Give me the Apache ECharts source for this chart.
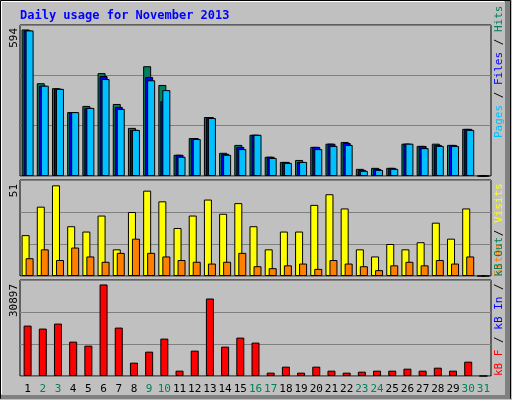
<!DOCTYPE html>
<html><head><meta charset="utf-8">
<script src="https://cdn.jsdelivr.net/npm/echarts@6/dist/echarts.min.js"></script>
<style>html,body{margin:0;padding:0;background:#c0c0c0}#c{width:512px;height:400px}</style>
</head><body><div id="c"></div>
<script>
const days = ['1','2','3','4','5','6','7','8','9','10','11','12','13','14','15','16','17','18','19','20','21','22','23','24','25','26','27','28','29','30','31'];
const weekend = ['2','3','9','10','16','17','23','24','30','31'];
const hits  = [594,376,356,259,284,417,292,195,445,369,86,154,239,94,126,167,78,57,65,118,131,138,29,33,33,131,122,131,126,191,0];
const files = [590,366,354,259,276,405,280,187,401,303,86,154,239,90,118,167,78,57,57,118,131,134,25,29,33,131,122,126,126,191,0];
const pages = [590,366,353,259,276,393,272,187,388,348,78,150,235,86,109,167,73,53,57,109,122,126,21,25,29,131,113,122,122,187,0];
const visits = [23,39,51,28,25,34,15,36,48,42,27,34,43,35,41,28,15,25,25,40,46,38,15,11,18,15,19,30,21,38,0];
const sites  = [10,15,9,16,11,8,13,21,13,11,9,8,7,8,13,5.5,4.4,6,7,4,9,7,5.5,3.3,6,8,6,9,7,11,0];
const kbF = [17010,16000,17690,11600,10250,30897,16340,4500,8220,12620,1800,8560,26150,9910,12960,11270,1130,3150,1130,3150,1800,1130,1460,1800,1800,2470,1800,2810,1800,4840,0];
const maxLabels = ['594','51','30897'];

const chart = echarts.init(document.getElementById('c'));
const L = 20, R = 21;
const grids = [{top:25,height:151},{top:180,height:96},{top:280,height:96}].map(g=>({left:L,right:R,top:g.top,height:g.height,show:true,borderColor:'#000',borderWidth:1,backgroundColor:'#c0c0c0'}));
function xa(i,show){return {type:'category',gridIndex:i,data:days,axisLine:{show:false},axisTick:{show:false},
  axisLabel:{show:show,interval:0,margin:8,fontFamily:'DejaVu Sans Mono',fontSize:11,
    color:(v)=>weekend.includes(v)?'#00805c':'#000'}};}
function ya(i,max){return {type:'value',gridIndex:i,min:0,max:max,interval:max/3,axisLabel:{show:false},axisLine:{show:false},axisTick:{show:false},
  splitLine:{lineStyle:{color:'#808080',width:1}}};}
const bs = {borderColor:'#000',borderWidth:1};
const fnt = 'DejaVu Sans Mono';
function sideLabel(x,y,parts){
  const rich={};let txt='';
  parts.forEach((p,i)=>{rich['p'+i]={fill:p[1],fontFamily:fnt,fontSize:11};txt+='{p'+i+'|'+p[0]+'}';});
  return {type:'text',x:x,y:y,rotation:Math.PI/2,style:{text:txt,rich:rich,align:'left',verticalAlign:'middle',fontFamily:fnt,fontSize:11}};
}
chart.setOption({
  animation:false,
  backgroundColor:'#c0c0c0',
  grid:grids,
  xAxis:[xa(0,false),xa(1,false),xa(2,true)],
  yAxis:[ya(0,612),ya(1,54),ya(2,32400)],
  series:[
    {type:'bar',name:'Hits',xAxisIndex:0,yAxisIndex:0,data:hits,barWidth:8,barGap:'-75%',itemStyle:Object.assign({color:'#00805c'},bs)},
    {type:'bar',name:'Files',xAxisIndex:0,yAxisIndex:0,data:files,barWidth:8,barGap:'-75%',itemStyle:Object.assign({color:'#0000ff'},bs)},
    {type:'bar',name:'Pages',xAxisIndex:0,yAxisIndex:0,data:pages,barWidth:8,barGap:'-75%',itemStyle:Object.assign({color:'#00c0ff'},bs)},
    {type:'bar',name:'Visits',xAxisIndex:1,yAxisIndex:1,data:visits,barWidth:8,barGap:'-50%',itemStyle:Object.assign({color:'#ffff00'},bs)},
    {type:'bar',name:'Sites',xAxisIndex:1,yAxisIndex:1,data:sites,barWidth:8,barGap:'-50%',itemStyle:Object.assign({color:'#ff8000'},bs)},
    {type:'bar',name:'kB F',xAxisIndex:2,yAxisIndex:2,data:kbF,barWidth:8,itemStyle:Object.assign({color:'#ff0000'},bs)}
  ],
  graphic:[
    {type:'rect',shape:{x:0.5,y:0.5,width:510,height:398},style:{fill:null,stroke:'#000',lineWidth:1},z:-1},
    {type:'line',shape:{x1:1.5,y1:1.5,x2:1.5,y2:394},style:{stroke:'#fff',lineWidth:1}},
    {type:'line',shape:{x1:1.5,y1:1.5,x2:504,y2:1.5},style:{stroke:'#fff',lineWidth:1}},
    {type:'rect',shape:{x:505,y:1,width:5,height:397},style:{fill:'#808080'}},
    {type:'rect',shape:{x:1,y:395,width:509,height:4},style:{fill:'#808080'}},
    {type:'text',x:20,y:16,style:{text:'Daily usage for November 2013',fill:'#0000ff',fontFamily:fnt,fontSize:12,fontWeight:'bold',verticalAlign:'middle'}},
    {type:'text',x:14,y:28,rotation:Math.PI/2,style:{text:maxLabels[0],fill:'#000',fontFamily:fnt,fontSize:11,align:'right',verticalAlign:'middle'}},
    {type:'text',x:14,y:184,rotation:Math.PI/2,style:{text:maxLabels[1],fill:'#000',fontFamily:fnt,fontSize:11,align:'right',verticalAlign:'middle'}},
    {type:'text',x:14,y:284,rotation:Math.PI/2,style:{text:maxLabels[2],fill:'#000',fontFamily:fnt,fontSize:11,align:'right',verticalAlign:'middle'}},
    Object.assign(sideLabel(499,138,[['Pages','#00c0ff'],[' / ','#000'],['Files','#0000ff'],[' / ','#000'],['Hits','#00805c']]),{}),
    sideLabel(499,276,[['Sites','#ff8000'],[' / ','#000'],['Visits','#ffff00']]),
    sideLabel(499,376,[['kB F','#ff0000'],[' / ','#000'],['kB In','#0000ff'],[' / ','#000'],['kB Out','#00805c']])
  ]
});
</script></body></html>
